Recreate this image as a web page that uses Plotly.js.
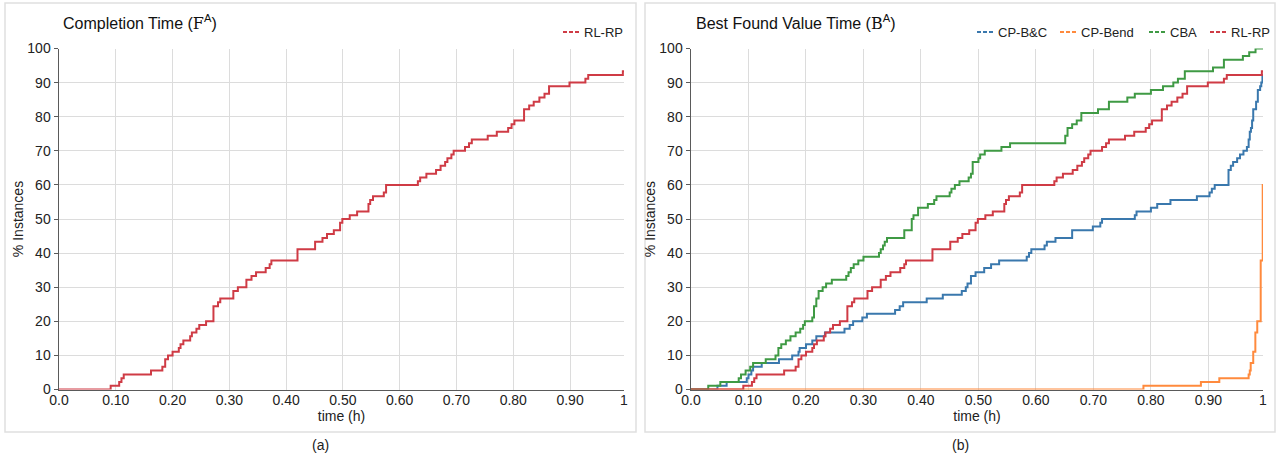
<!DOCTYPE html>
<html>
<head>
<meta charset="utf-8">
<script src="https://cdn.plot.ly/plotly-3.0.1.min.js"></script>
<style>
  html, body { margin: 0; padding: 0; background: #ffffff; }
  #chart { width: 1277px; height: 457px; }
</style>
</head>
<body>
<div id="chart"></div>
<script>
// ---------------- data ----------------
const xTickVals = [0, 0.1, 0.2, 0.3, 0.4, 0.5, 0.6, 0.7, 0.8, 0.9, 0.995];
const xTickText = ['0.0', '0.10', '0.20', '0.30', '0.40', '0.50', '0.60', '0.70', '0.80', '0.90', '1'];

// RL-RP (same series in both panels)
const rlrpTime = [0, 0.091, 0.106, 0.110, 0.114, 0.162, 0.182, 0.187, 0.192, 0.200, 0.211, 0.214, 0.219,
  0.231, 0.234, 0.242, 0.247, 0.259, 0.272, 0.280, 0.284, 0.307, 0.315, 0.330, 0.339, 0.347, 0.364,
  0.371, 0.374, 0.420, 0.451, 0.464, 0.472, 0.484, 0.495, 0.499, 0.512, 0.525, 0.545, 0.548, 0.553,
  0.572, 0.576, 0.632, 0.636, 0.647, 0.664, 0.672, 0.680, 0.684, 0.691, 0.695, 0.715, 0.722, 0.727,
  0.755, 0.771, 0.791, 0.797, 0.802, 0.819, 0.828, 0.836, 0.846, 0.855, 0.863, 0.899, 0.927, 0.932,
  0.993, 0.995];
const rlrpPct = [0, 1.1, 2.2, 3.3, 4.4, 5.6, 6.7, 8.9, 10.0, 11.1, 12.2, 13.3, 14.4,
  15.6, 16.7, 17.8, 18.9, 20.0, 24.4, 25.6, 26.7, 28.9, 30.0, 32.2, 33.3, 34.4, 35.6,
  36.7, 37.8, 41.1, 43.3, 44.4, 45.6, 46.7, 48.9, 50.0, 51.1, 52.2, 54.4, 55.6, 56.7,
  57.8, 60.0, 61.1, 62.2, 63.3, 64.4, 65.6, 66.7, 67.8, 68.9, 70.0, 71.1, 72.2, 73.3,
  74.4, 75.6, 76.7, 77.8, 78.9, 82.2, 83.3, 84.4, 85.6, 86.7, 88.9, 90.0, 91.1, 92.2,
  93.3, 93.3];

// CP-B&C
const cpbcTime = [0, 0.046, 0.062, 0.097, 0.100, 0.105, 0.108, 0.123, 0.153, 0.176, 0.187, 0.189, 0.200,
  0.211, 0.218, 0.233, 0.267, 0.276, 0.282, 0.298, 0.306, 0.355, 0.363, 0.369, 0.410, 0.438, 0.471,
  0.478, 0.481, 0.487, 0.495, 0.510, 0.522, 0.536, 0.584, 0.588, 0.592, 0.615, 0.619, 0.634, 0.663,
  0.699, 0.712, 0.715, 0.772, 0.775, 0.800, 0.811, 0.834, 0.880, 0.902, 0.906, 0.911, 0.935, 0.939,
  0.943, 0.950, 0.955, 0.961, 0.967, 0.970, 0.972, 0.974, 0.976, 0.978, 0.983, 0.986, 0.990, 0.992,
  0.994, 0.995];
const cpbcPct = [0, 1.1, 2.2, 3.3, 4.4, 5.6, 6.7, 7.8, 8.9, 10.0, 11.1, 12.2, 13.3,
  14.4, 15.6, 16.7, 17.8, 18.9, 20.0, 21.1, 22.2, 23.3, 24.4, 25.6, 26.7, 27.8, 28.9,
  30.0, 31.1, 33.3, 34.4, 35.6, 36.7, 37.8, 38.9, 40.0, 41.1, 42.2, 43.3, 44.4, 46.7,
  47.8, 48.9, 50.0, 51.1, 52.2, 53.3, 54.4, 55.6, 56.7, 57.8, 58.9, 60.0, 64.4, 65.6,
  66.7, 67.8, 68.9, 70.0, 71.1, 73.3, 75.6, 76.7, 78.9, 82.2, 84.4, 87.8, 88.9, 90.0,
  92.2, 92.2];

// CP-Bend
const cpbendTime = [0, 0.787, 0.887, 0.919, 0.970, 0.972, 0.9736, 0.978, 0.9817, 0.985, 0.991, 0.9945, 0.995];
const cpbendPct  = [0, 1.1, 2.2, 3.3, 4.4, 5.6, 7.8, 11.1, 16.7, 20.0, 37.8, 60.0, 60.0];

// CBA
const cbaTime = [0, 0.030, 0.051, 0.083, 0.087, 0.095, 0.103, 0.108, 0.130, 0.147, 0.152, 0.157, 0.165,
  0.173, 0.182, 0.190, 0.195, 0.198, 0.211, 0.214, 0.218, 0.222, 0.229, 0.235, 0.245, 0.270, 0.274,
  0.278, 0.283, 0.291, 0.300, 0.327, 0.330, 0.334, 0.337, 0.341, 0.371, 0.384, 0.387, 0.395, 0.412,
  0.423, 0.427, 0.450, 0.453, 0.459, 0.467, 0.483, 0.487, 0.490, 0.500, 0.503, 0.511, 0.540, 0.555,
  0.651, 0.655, 0.663, 0.671, 0.679, 0.708, 0.727, 0.759, 0.772, 0.800, 0.821, 0.839, 0.847, 0.859,
  0.908, 0.927, 0.960, 0.971, 0.982, 0.995];
const cbaPct = [0, 1.1, 2.2, 3.3, 4.4, 5.6, 6.7, 7.8, 8.9, 10.0, 12.2, 13.3, 14.4,
  15.6, 16.7, 17.8, 18.9, 20.0, 21.1, 24.4, 26.7, 28.9, 30.0, 31.1, 32.2, 33.3, 34.4,
  35.6, 36.7, 37.8, 38.9, 40.0, 41.1, 42.2, 43.3, 44.4, 46.7, 50.0, 51.1, 53.3, 54.4,
  55.6, 56.7, 57.8, 58.9, 60.0, 61.1, 62.2, 63.3, 66.7, 67.8, 68.9, 70.0, 71.1, 72.2,
  74.4, 76.7, 77.8, 78.9, 81.1, 82.2, 84.4, 85.6, 86.7, 87.8, 88.9, 90.0, 91.1, 93.3,
  94.4, 96.7, 97.8, 98.9, 100, 100];

const seriesNames = ['CP-B&C', 'CP-Bend', 'CBA', 'RL-RP'];
const seriesColors = ['#3a78ad', '#ff8a3d', '#3f9a44', '#cf3b45'];

// ---------------- layout helpers ----------------
const W = 1277, H = 457;
const px = v => v / W;
const py = v => 1 - v / H;
const FONT = 'Liberation Sans, Arial, sans-serif';

function stepTrace(x, y, color, xa, ya) {
  return { x: x, y: y, type: 'scatter', mode: 'lines', line: { shape: 'hv', color: color, width: 2 },
           xaxis: xa, yaxis: ya, showlegend: false, hoverinfo: 'skip' };
}

const traces = [
  stepTrace(rlrpTime, rlrpPct, seriesColors[3], 'x', 'y'),
  stepTrace(cpbcTime, cpbcPct, seriesColors[0], 'x2', 'y2'),
  stepTrace(cpbendTime, cpbendPct, seriesColors[1], 'x2', 'y2'),
  stepTrace(cbaTime, cbaPct, seriesColors[2], 'x2', 'y2'),
  stepTrace(rlrpTime, rlrpPct, seriesColors[3], 'x2', 'y2')
];

function xAxis(domain, anchor) {
  return {
    domain: domain, anchor: anchor, range: [0, 0.995], tickmode: 'array',
    tickvals: xTickVals, ticktext: xTickText, showgrid: true, gridcolor: '#dcdcdc', gridwidth: 1,
    zeroline: false, showline: true, linecolor: '#5a5a5a', linewidth: 1.5, ticks: '',
    ticklabelstandoff: -3, automargin: false,
    tickfont: { family: FONT, size: 14, color: '#222' },
    title: { text: 'time (h)', font: { family: FONT, size: 14, color: '#222' }, standoff: 0 }
  };
}
function yAxis(domain, anchor) {
  return {
    domain: domain, anchor: anchor, range: [0, 100], dtick: 10, showgrid: true, gridcolor: '#dcdcdc',
    zeroline: false, showline: true, linecolor: '#5a5a5a', linewidth: 1.5, ticks: 'outside',
    ticklen: 4, tickcolor: '#5a5a5a', automargin: false,
    tickfont: { family: FONT, size: 14, color: '#222' },
    title: { text: '% Instances', font: { family: FONT, size: 14, color: '#222' }, standoff: 0 }
  };
}

const yDom = [py(389.5), py(48.5)];

// hand-placed legends (short dashed sample + label), left panel and right panel
const legendItems = [
  { name: seriesNames[3], color: seriesColors[3], x: 563 },
  { name: seriesNames[0], color: seriesColors[0], x: 977 },
  { name: seriesNames[1], color: seriesColors[1], x: 1060 },
  { name: seriesNames[2], color: seriesColors[2], x: 1149 },
  { name: seriesNames[3], color: seriesColors[3], x: 1210 }
];
const LEG_Y = 32;

const shapes = [
  { type: 'rect', xref: 'paper', yref: 'paper', x0: px(5), x1: px(636), y0: py(432), y1: py(3),
    line: { color: '#e0e0e0', width: 1.5 }, fillcolor: 'rgba(0,0,0,0)', layer: 'below' },
  { type: 'rect', xref: 'paper', yref: 'paper', x0: px(645), x1: px(1275), y0: py(432), y1: py(3),
    line: { color: '#e0e0e0', width: 1.5 }, fillcolor: 'rgba(0,0,0,0)', layer: 'below' }
];
const annotations = [
  { xref: 'paper', yref: 'paper', x: px(61), y: py(22), xanchor: 'left', yanchor: 'middle', showarrow: false,
    text: "Completion Time (<span style=\"font-family:'DejaVu Serif'\">F</span><sup>A</sup>)",
    font: { family: FONT, size: 16, color: '#111' } },
  { xref: 'paper', yref: 'paper', x: px(694), y: py(22), xanchor: 'left', yanchor: 'middle', showarrow: false,
    text: "Best Found Value Time (<span style=\"font-family:'DejaVu Serif'\">B</span><sup>A</sup>)",
    font: { family: FONT, size: 16, color: '#111' } },
  { xref: 'paper', yref: 'paper', x: px(320), y: py(445), xanchor: 'center', yanchor: 'middle', showarrow: false,
    text: '(a)', font: { family: FONT, size: 14, color: '#222' } },
  { xref: 'paper', yref: 'paper', x: px(960), y: py(445), xanchor: 'center', yanchor: 'middle', showarrow: false,
    text: '(b)', font: { family: FONT, size: 14, color: '#222' } }
];
legendItems.forEach(it => {
  shapes.push({ type: 'line', xref: 'paper', yref: 'paper', x0: px(it.x), x1: px(it.x + 16),
                y0: py(LEG_Y), y1: py(LEG_Y), line: { color: it.color, width: 2, dash: '4px,2px' } });
  annotations.push({ xref: 'paper', yref: 'paper', x: px(it.x + 19), y: py(LEG_Y), xanchor: 'left',
                     yanchor: 'middle', showarrow: false, text: it.name,
                     font: { family: FONT, size: 13, color: '#222' } });
});

const layout = {
  width: W, height: H,
  margin: { l: 0, r: 0, t: 0, b: 0, autoexpand: false },
  paper_bgcolor: '#ffffff', plot_bgcolor: '#ffffff',
  font: { family: FONT, color: '#222' },
  showlegend: false,
  xaxis: xAxis([px(59), px(624)], 'y'),
  yaxis: yAxis(yDom, 'x'),
  xaxis2: xAxis([px(691), px(1263)], 'y2'),
  yaxis2: yAxis(yDom, 'x2'),
  shapes: shapes,
  annotations: annotations
};

Plotly.newPlot('chart', traces, layout, { displayModeBar: false, staticPlot: true });
</script>
</body>
</html>
